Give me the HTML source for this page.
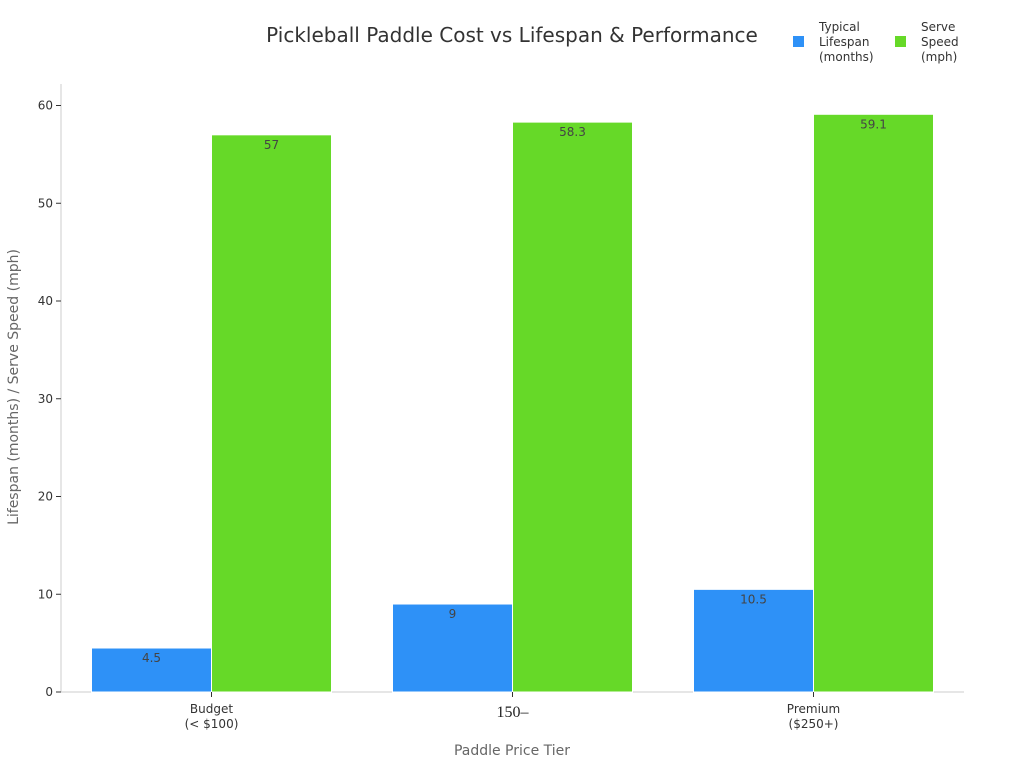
<!DOCTYPE html>
<html><head><meta charset="utf-8"><style>
body{margin:0;background:#fff;font-family:"Liberation Sans","DejaVu Sans",sans-serif}
</style></head><body>
<svg width="1024" height="768" font-family="DejaVu Sans, Liberation Sans, sans-serif">
<text x="512" y="42" text-anchor="middle" font-size="20" fill="#333">Pickleball Paddle Cost vs Lifespan &amp; Performance</text>
<g>
<rect x="793" y="36" width="11" height="11" fill="#2e91f7"/>
<text font-size="12" fill="#333"><tspan x="819" y="31">Typical</tspan><tspan x="819" y="46">Lifespan</tspan><tspan x="819" y="61">(months)</tspan></text>
<rect x="895" y="36" width="11" height="11" fill="#66d928"/>
<text font-size="12" fill="#333"><tspan x="921" y="31">Serve</tspan><tspan x="921" y="46">Speed</tspan><tspan x="921" y="61">(mph)</tspan></text>
</g>
<g id="plot"></g>
<text x="512" y="755" text-anchor="middle" font-size="14" fill="#666">Paddle Price Tier</text>
<text transform="translate(18,387) rotate(-90)" text-anchor="middle" font-size="14" fill="#666">Lifespan (months) / Serve Speed (mph)</text>
</svg>
<script>
const categories=["Budget\n(< $100)","150–","Premium\n($250+)"];
const lifespan=[4.5,9,10.5];
const speed=[57,58.3,59.1];
const yTicks=[0,10,20,30,40,50,60];
const NS="http://www.w3.org/2000/svg";
const g=document.getElementById('plot');
const x0=61,x1=964,yb=692,yt=105.5;
const y=v=>yb-(v/60)*(yb-yt);
const step=(x1-x0)/categories.length;
const cx=i=>x0+step*(i+0.5);
function mk(t,a,txt){const e=document.createElementNS(NS,t);for(const k in a)e.setAttribute(k,a[k]);if(txt!=null)e.textContent=txt;g.appendChild(e);return e;}
let e=mk('line',{x1:x0,y1:84,x2:x0,y2:yb,stroke:'#ccc'});


e=mk('line',{x1:x0,y1:yb,x2:x1,y2:yb,stroke:'#ccc'});


yTicks.forEach(v=>{
 e=mk('line',{x1:x0-5,y1:y(v),x2:x0,y2:y(v),stroke:'#333'});
 
 
 e=mk('text',{x:x0-8,y:y(v)+4,'text-anchor':'end','font-size':12,fill:'#333'},v);
 
 
});
const bw=120;
categories.forEach((c,i)=>{
 const c0=cx(i);
 e=mk('rect',{x:c0-bw,y:y(lifespan[i]),width:bw,height:yb-y(lifespan[i]),fill:'#2e91f7',stroke:'#fff','stroke-width':1});
 
 
 e=mk('rect',{x:c0,y:y(speed[i]),width:bw,height:yb-y(speed[i]),fill:'#66d928',stroke:'#fff','stroke-width':1});
 
 
 e=mk('text',{x:c0-bw/2,y:y(lifespan[i])+14,'text-anchor':'middle','font-size':12,fill:'#444'},lifespan[i]);
 
 
 e=mk('text',{x:c0+bw/2,y:y(speed[i])+14,'text-anchor':'middle','font-size':12,fill:'#444'},speed[i]);
 
 
 e=mk('line',{x1:c0,y1:yb,x2:c0,y2:yb+5,stroke:'#333'});
 
 
 const lines=c.split('\n');
 if(lines.length===1){
  e=mk('text',{x:c0,y:yb+25,'text-anchor':'middle','font-size':16,fill:'#222','font-family':'Liberation Serif, serif'},c);
 } else {
  e=mk('text',{'text-anchor':'middle','font-size':12,fill:'#333'});
  lines.forEach((l,j)=>{const t=document.createElementNS(NS,'tspan');t.setAttribute('x',c0);t.setAttribute('y',yb+21+j*15);t.textContent=l;e.appendChild(t);});
 }
 
 
});
</script>
</body></html>
